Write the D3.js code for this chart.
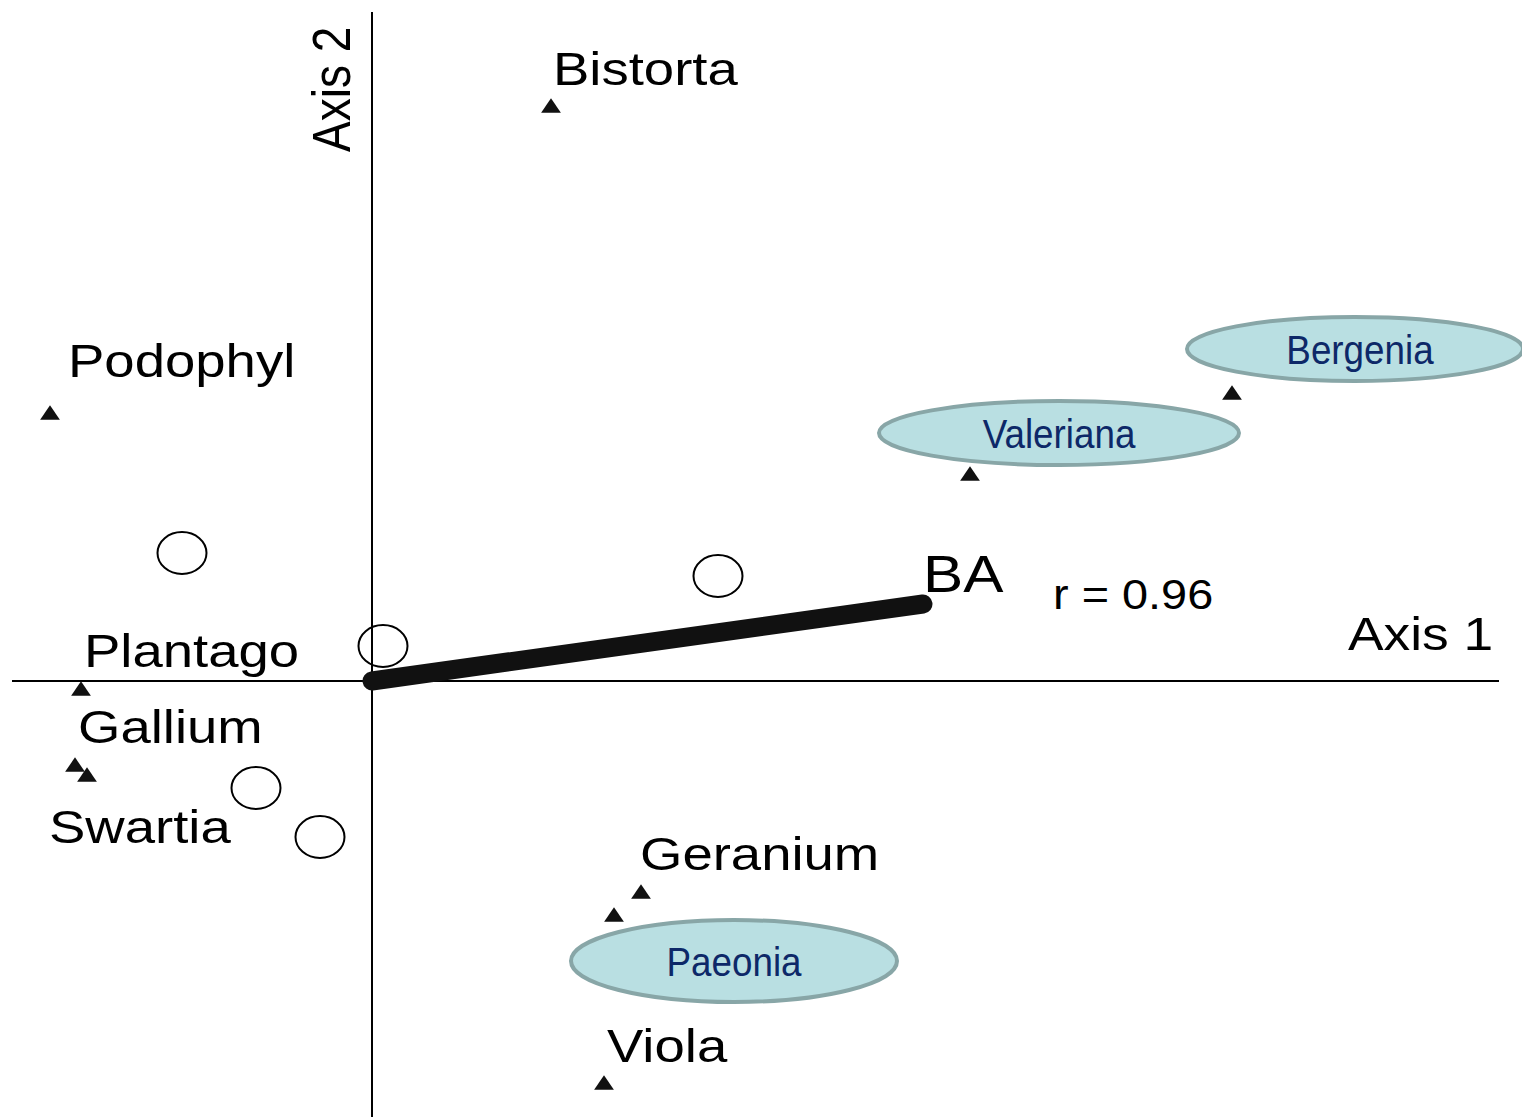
<!DOCTYPE html>
<html>
<head>
<meta charset="utf-8">
<script src="https://cdn.jsdelivr.net/npm/d3@7"></script>
<style>
  html, body { margin: 0; padding: 0; background: #fff; }
  svg { display: block; }
  text { font-family: "Liberation Sans", Arial, Helvetica, sans-serif; }
</style>
</head>
<body>
<svg id="chart" width="1522" height="1117"></svg>
<script>
// Ordination scores (axis 1, axis 2)
const speciesNames = ["Bistorta", "Podophyl", "Plantago", "Gallium", "Swartia",
                      "Valeriana", "Bergenia", "Geranium", "Paeonia", "Viola"];
const speciesAxis1 = [1.79, -3.22, -2.91, -2.97, -2.85, 5.98, 8.60, 2.69, 2.42, 2.32];
const speciesAxis2 = [5.75, 2.68, -0.08, -0.84, -0.94, 2.07, 2.88, -2.11, -2.34, -4.02];

// Sample plots
const plotAxis1 = [-1.90, 0.11, -1.16, -0.52, 3.46];
const plotAxis2 = [1.28, 0.35, -1.07, -1.56, 1.05];

// Environmental vector (basal area)
const vectorName = "BA";
const vectorEnd = [5.51, 0.77];
const vectorR = "r = 0.96";

// Species that are highlighted in a bubble
const highlighted = ["Valeriana", "Bergenia", "Paeonia"];

// Label placement relative to each species marker (px)
const labelOffset = {
  Bistorta: [2, -21], Podophyl: [18, -36], Plantago: [3, -22],
  Gallium: [3, -22], Swartia: [-38, 68], Geranium: [-1, -22],
  Viola: [3, -21], Valeriana: [89, -41], Bergenia: [123, -44],
  Paeonia: [120, 46]
};

const svg = d3.select("#chart");

const x = d3.scaleLinear().domain([-3.6, 11.27]).range([12, 1499]);
const y = d3.scaleLinear().domain([-4.36, 6.69]).range([1117, 12]);

const stretch = 1.16;   // horizontal glyph stretch of the black labels

// Axes through the origin
svg.append("line")
  .attr("x1", x.range()[0]).attr("x2", x.range()[1])
  .attr("y1", y(0)).attr("y2", y(0))
  .attr("stroke", "#000").attr("stroke-width", 2);
svg.append("line")
  .attr("x1", x(0)).attr("x2", x(0))
  .attr("y1", y.range()[1]).attr("y2", y.range()[0])
  .attr("stroke", "#000").attr("stroke-width", 2);

// Axis titles
svg.append("text")
  .attr("transform", `translate(1348,650) scale(${stretch},1)`)
  .attr("font-size", 46).attr("fill", "#000")
  .text("Axis 1");
svg.append("text")
  .attr("transform", `translate(350,152) rotate(-90) scale(1,${stretch})`)
  .attr("font-size", 46).attr("fill", "#000")
  .text("Axis 2");

// Sample plots as open circles
const plots = d3.range(plotAxis1.length).map(i => ({ a1: plotAxis1[i], a2: plotAxis2[i] }));
svg.append("g").selectAll("ellipse")
  .data(plots).join("ellipse")
  .attr("cx", d => x(d.a1)).attr("cy", d => y(d.a2))
  .attr("rx", 24.5).attr("ry", 21)
  .attr("fill", "none").attr("stroke", "#000").attr("stroke-width", 2);

// BA vector
svg.append("line")
  .attr("x1", x(0)).attr("y1", y(0))
  .attr("x2", x(vectorEnd[0])).attr("y2", y(vectorEnd[1]))
  .attr("stroke", "#111").attr("stroke-width", 19)
  .attr("stroke-linecap", "round");
svg.append("text")
  .attr("transform", `translate(${x(vectorEnd[0])},${y(vectorEnd[1]) - 12}) scale(${stretch},1)`)
  .attr("font-size", 52).attr("fill", "#000")
  .text(vectorName);
svg.append("text")
  .attr("transform", `translate(1053,609) scale(1.09,1)`)
  .attr("font-size", 43).attr("fill", "#000")
  .text(vectorR);

// Species
const species = speciesNames.map((n, i) => ({ name: n, a1: speciesAxis1[i], a2: speciesAxis2[i] }));

const tri = d3.symbol().type(d3.symbolTriangle).size(135);
svg.append("g").selectAll("path")
  .data(species).join("path")
  .attr("d", tri)
  .attr("transform", d => `translate(${x(d.a1)},${y(d.a2) + 2}) scale(1.12,0.95)`)
  .attr("fill", "#111");

// Plain labels
svg.append("g").selectAll("text")
  .data(species.filter(d => !highlighted.includes(d.name))).join("text")
  .attr("transform", d => {
    const o = labelOffset[d.name];
    return `translate(${x(d.a1) + o[0]},${y(d.a2) + o[1]}) scale(${stretch},1)`;
  })
  .attr("font-size", 47).attr("fill", "#000")
  .text(d => d.name);

// Highlighted labels in bubbles
const bubbleSize = { Valeriana: [180, 32], Bergenia: [168, 32], Paeonia: [163, 41] };
const bub = svg.append("g").selectAll("g")
  .data(species.filter(d => highlighted.includes(d.name))).join("g")
  .attr("transform", d => {
    const o = labelOffset[d.name];
    return `translate(${x(d.a1) + o[0]},${y(d.a2) + o[1]})`;
  });
bub.append("ellipse")
  .attr("rx", d => bubbleSize[d.name][0]).attr("ry", d => bubbleSize[d.name][1])
  .attr("fill", "#b9dfe2").attr("stroke", "#88a6a7").attr("stroke-width", 4);
bub.append("text")
  .attr("transform", d => `translate(${d.name === "Bergenia" ? 5 : 0},15) scale(0.92,1)`)
  .attr("text-anchor", "middle")
  .attr("font-size", 40).attr("fill", "#0d2868")
  .text(d => d.name);
</script>
</body>
</html>
